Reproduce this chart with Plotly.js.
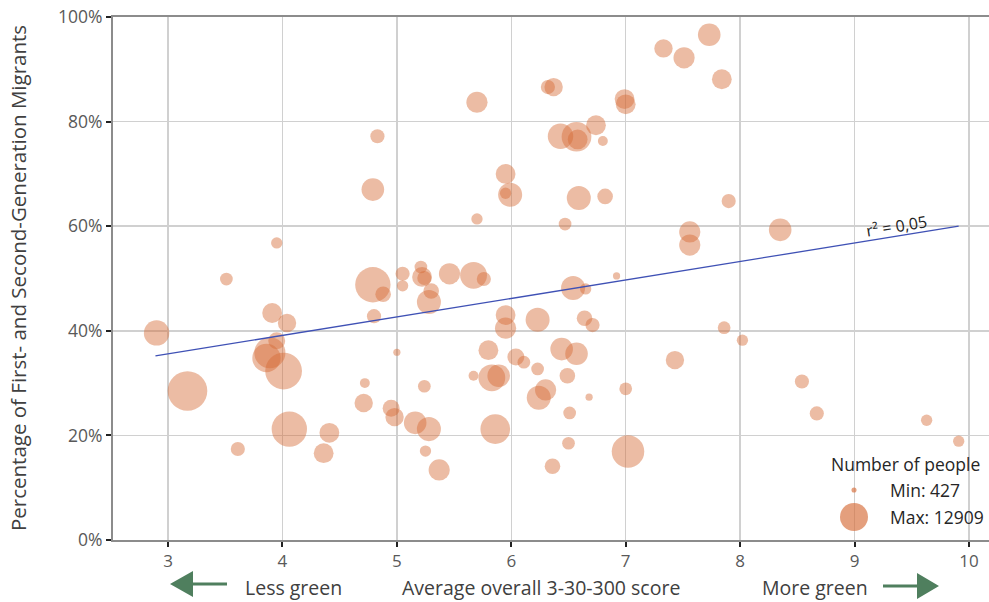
<!DOCTYPE html>
<html>
<head>
<meta charset="utf-8">
<script src="https://cdn.plot.ly/plotly-3.0.1.min.js"></script>
<style>
  html, body { margin: 0; padding: 0; background: #fff; }
  #chart { width: 989px; height: 602px; }
</style>
</head>
<body>
<div id="chart"></div>
<script>
// ---- Data ----
const scoreX = [
  2.90, 3.17, 3.51, 3.61, 3.86, 3.89, 3.91, 3.95, 3.95, 4.01,
  4.04, 4.06, 4.36, 4.41, 4.71, 4.72, 4.79, 4.79, 4.80, 4.83,
  4.88, 4.95, 4.98, 5.00, 5.05, 5.05, 5.16, 5.21, 5.22, 5.24,
  5.24, 5.25, 5.28, 5.30, 5.28, 5.37, 5.46, 5.67, 5.67, 5.70,
  5.70, 5.76, 5.80, 5.83, 5.86, 5.89, 5.95, 5.95, 5.99, 5.95,
  5.95, 6.04, 6.11, 6.23, 6.23, 6.24, 6.30, 6.32, 6.37, 6.36,
  6.43, 6.44, 6.47, 6.49, 6.50, 6.51, 6.54, 6.57, 6.58, 6.57,
  6.59, 6.64, 6.65, 6.68, 6.71, 6.74, 6.80, 6.82, 6.92, 6.99,
  7.00, 7.00, 7.02, 7.33, 7.43, 7.51, 7.56, 7.56, 7.73, 7.84,
  7.86, 7.90, 8.02, 8.35, 8.54, 8.67, 9.63, 9.91
];
const migrantShare = [
  0.396, 0.285, 0.499, 0.174, 0.348, 0.358, 0.434, 0.381, 0.568, 0.323,
  0.415, 0.212, 0.166, 0.205, 0.262, 0.300, 0.670, 0.488, 0.428, 0.772,
  0.470, 0.252, 0.235, 0.359, 0.509, 0.486, 0.224, 0.522, 0.503, 0.501,
  0.294, 0.170, 0.212, 0.476, 0.455, 0.134, 0.509, 0.506, 0.314, 0.837,
  0.614, 0.499, 0.363, 0.310, 0.212, 0.314, 0.700, 0.663, 0.660, 0.430,
  0.405, 0.350, 0.340, 0.421, 0.327, 0.272, 0.287, 0.866, 0.866, 0.141,
  0.772, 0.365, 0.604, 0.314, 0.185, 0.243, 0.482, 0.771, 0.766, 0.356,
  0.654, 0.424, 0.480, 0.273, 0.411, 0.793, 0.763, 0.657, 0.505, 0.843,
  0.833, 0.289, 0.169, 0.940, 0.344, 0.922, 0.589, 0.564, 0.966, 0.881,
  0.406, 0.648, 0.382, 0.593, 0.303, 0.242, 0.229, 0.189
];
const numberOfPeople = [
  5330, 12909, 1330, 1650, 6580, 7970, 3230, 2370, 1050, 11130,
  2780, 10290, 3230, 3230, 2780, 810, 4210, 10290, 1650, 1650,
  2000, 2370, 2780, 427, 1650, 1050, 4210, 1330, 3230, 1650,
  1330, 1050, 4760, 2000, 4760, 3700, 3700, 5940, 810, 3700,
  1050, 1650, 3230, 5940, 7260, 4210, 3230, 1050, 4760, 3230,
  3700, 2370, 1330, 4760, 1330, 4760, 3700, 1650, 2780, 2000,
  5330, 4210, 1330, 2000, 1330, 1330, 4760, 7260, 3230, 4210,
  4760, 2000, 1050, 427, 1650, 3230, 810, 2000, 427, 3230,
  3230, 1330, 8710, 2780, 2780, 3700, 3700, 3700, 4210, 3230,
  1330, 1650, 1050, 4210, 1650, 1650, 1050, 1050
];
const trendX = [2.89, 9.91];
const trendY = [0.352, 0.600];
const rSquaredLabel = "r² = 0,05";
const legendTitle = "Number of people";
const legendMin = 427;
const legendMax = 12909;
const xTickVals = [3, 4, 5, 6, 7, 8, 9, 10];
const yTickVals = [0, 0.2, 0.4, 0.6, 0.8, 1.0];

// ---- Styling ----
const FONT = "Open Sans, Noto Sans, sans-serif";
const bubbleColor = "rgba(214,108,56,0.65)";
const arrowColor = "#4f7f5e";
const W = 989, H = 602;
const M = {l: 113, r: 0, t: 17, b: 62};
const PW = W - M.l - M.r, PH = H - M.t - M.b;
const px = x => (x - M.l) / PW;          // pixel -> paper x
const py = y => (H - M.b - y) / PH;      // pixel -> paper y

const maxDiameter = 28;
const sizeref = legendMax / (maxDiameter * maxDiameter);
const diam = v => Math.sqrt(v / sizeref);

const bubbles = {
  type: "scatter",
  mode: "markers",
  x: scoreX,
  y: migrantShare,
  marker: {
    size: numberOfPeople,
    sizemode: "area",
    sizeref: sizeref,
    color: bubbleColor,
    line: {width: 0}
  },
  hoverinfo: "x+y",
  showlegend: false
};

const trend = {
  type: "scatter",
  mode: "lines",
  x: trendX,
  y: trendY,
  line: {color: "#3f51b5", width: 1.3},
  hoverinfo: "skip",
  showlegend: false
};

function arrowPath(points) {
  return "M " + points.map(p => px(p[0]) + "," + py(p[1])).join(" L ") + " Z";
}
const leftArrow = arrowPath([
  [170, 584], [193, 571], [193, 582.5], [227, 582.5], [227, 585.5], [193, 585.5], [193, 597]
]);
const rightArrow = arrowPath([
  [939, 586], [917, 573], [917, 584.5], [883, 584.5], [883, 587.5], [917, 587.5], [917, 599]
]);

const dMin = diam(legendMin);
const dMax = diam(legendMax);

const layout = {
  width: W, height: H,
  margin: M,
  paper_bgcolor: "#ffffff",
  plot_bgcolor: "#ffffff",
  font: {family: FONT, color: "#595959", size: 17},
  showlegend: false,
  xaxis: {
    range: [2.519, 10.175],
    tickvals: xTickVals,
    ticktext: xTickVals.map(String),
    showgrid: true,
    gridcolor: "#d0d0d0",
    gridwidth: 1.5,
    zeroline: false,
    showline: true,
    linecolor: "#8c8c8c",
    linewidth: 2,
    mirror: true,
    ticks: "outside",
    ticklen: 5,
    tickwidth: 2,
    tickcolor: "#222",
    tickfont: {family: FONT, size: 17, color: "#595959"},
    fixedrange: true
  },
  yaxis: {
    range: [0, 1],
    tickvals: yTickVals,
    tickformat: ".0%",
    showgrid: true,
    gridcolor: "#d0d0d0",
    gridwidth: 1.5,
    zeroline: false,
    showline: true,
    linecolor: "#8c8c8c",
    linewidth: 2,
    ticks: "outside",
    ticklen: 5,
    tickwidth: 2,
    tickcolor: "#222",
    tickfont: {family: FONT, size: 17.5, color: "#595959"},
    fixedrange: true
  },
  shapes: [
    {type: "rect", xref: "paper", yref: "paper", layer: "between",
     x0: px(826), x1: px(989), y0: py(538), y1: py(446),
     fillcolor: "#ffffff", line: {width: 0}},
    {type: "circle", xref: "paper", yref: "paper",
     xsizemode: "pixel", ysizemode: "pixel",
     xanchor: px(854), yanchor: py(490),
     x0: -dMin / 2, x1: dMin / 2, y0: -dMin / 2, y1: dMin / 2,
     fillcolor: bubbleColor, line: {width: 0}},
    {type: "circle", xref: "paper", yref: "paper",
     xsizemode: "pixel", ysizemode: "pixel",
     xanchor: px(854), yanchor: py(517),
     x0: -dMax / 2, x1: dMax / 2, y0: -dMax / 2, y1: dMax / 2,
     fillcolor: bubbleColor, line: {width: 0}},
    {type: "path", xref: "paper", yref: "paper", path: leftArrow,
     fillcolor: arrowColor, line: {width: 0}},
    {type: "path", xref: "paper", yref: "paper", path: rightArrow,
     fillcolor: arrowColor, line: {width: 0}}
  ],
  annotations: [
    {text: "Percentage of First- and Second-Generation Migrants",
     xref: "paper", yref: "paper", x: px(18), y: py(278),
     xanchor: "center", yanchor: "middle", textangle: -90, showarrow: false,
     font: {family: FONT, size: 20.5, color: "#404040"}},
    {text: "Average overall 3-30-300 score",
     xref: "paper", yref: "paper", x: px(541), y: py(587),
     xanchor: "center", yanchor: "middle", showarrow: false,
     font: {family: FONT, size: 19.5, color: "#404040"}},
    {text: "Less green",
     xref: "paper", yref: "paper", x: px(243), y: py(587),
     xanchor: "left", yanchor: "middle", showarrow: false,
     font: {family: FONT, size: 19.5, color: "#404040"}},
    {text: "More green",
     xref: "paper", yref: "paper", x: px(870), y: py(587),
     xanchor: "right", yanchor: "middle", showarrow: false,
     font: {family: FONT, size: 19.5, color: "#404040"}},
    {text: rSquaredLabel,
     xref: "x", yref: "y", x: 9.37, y: 0.60,
     xanchor: "center", yanchor: "middle", textangle: -9.2, showarrow: false,
     font: {family: FONT, size: 16, color: "#222"}},
    {text: legendTitle,
     xref: "paper", yref: "paper", x: px(829), y: py(464),
     xanchor: "left", yanchor: "middle", showarrow: false,
     font: {family: FONT, size: 17.5, color: "#262626"}},
    {text: "Min: " + legendMin,
     xref: "paper", yref: "paper", x: px(888), y: py(490),
     xanchor: "left", yanchor: "middle", showarrow: false,
     font: {family: FONT, size: 17.5, color: "#262626"}},
    {text: "Max: " + legendMax,
     xref: "paper", yref: "paper", x: px(888), y: py(517),
     xanchor: "left", yanchor: "middle", showarrow: false,
     font: {family: FONT, size: 17.5, color: "#262626"}}
  ]
};

Plotly.newPlot("chart", [bubbles, trend], layout, {displayModeBar: false, staticPlot: true});
</script>
</body>
</html>
